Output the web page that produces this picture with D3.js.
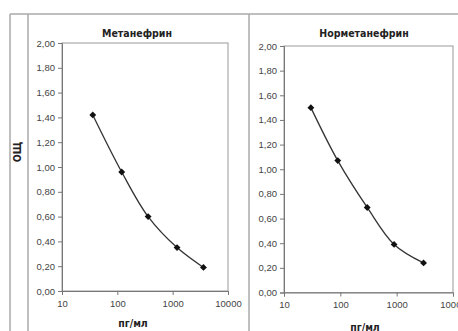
<!DOCTYPE html>
<html>
<head>
<meta charset="utf-8">
<script src="https://cdn.jsdelivr.net/npm/d3@7"></script>
<style>
  body { margin: 0; background: #fff; }
  .tick text { font-family: 'Liberation Sans', Arial, sans-serif; font-size: 9.5px; fill: #444; }
  .title { font-family: 'Liberation Sans Narrow', 'DejaVu Sans Condensed', sans-serif; font-weight: bold; font-size: 10.5px; fill: #222; }
</style>
</head>
<body>
<div id="chart"></div>
<script>
const metConc = [36, 120, 360, 1200, 3600]
const metOd = [1.42, 0.96, 0.60, 0.35, 0.19]
const normConc = [30, 90, 300, 900, 3000]
const normOd = [1.50, 1.07, 0.69, 0.39, 0.24]
const xTicks = [10, 100, 1000, 10000]
const yTicks = [0, 0.2, 0.4, 0.6, 0.8, 1.0, 1.2, 1.4, 1.6, 1.8, 2.0]

const width = 458
const height = 331

const svg = d3
  .select('#chart')
  .append('svg')
  .attr('width', width)
  .attr('height', height)

// sheet grid lines
const grid = [
  [10, 14, 458, 14],
  [10, 14, 10, 331],
  [28, 14, 28, 331],
  [249, 14, 249, 331]
]
svg.selectAll('.grid')
  .data(grid)
  .enter()
  .append('line')
  .attr('x1', d => d[0]).attr('y1', d => d[1])
  .attr('x2', d => d[2]).attr('y2', d => d[3])
  .attr('stroke', '#aaa')
  .attr('stroke-width', 1.5)

const fmt = v => d3.format('.2f')(v).replace('.', ',')

function panel(conc, od, title, box) {
  const x = d3.scaleLog().domain([10, 10000]).range([box.left, box.right])
  const y = d3.scaleLinear().domain([0, 2]).range([box.bottom, box.top])
  const g = svg.append('g')

  // plot area border
  g.append('rect')
    .attr('x', box.left).attr('y', box.top)
    .attr('width', box.right - box.left).attr('height', box.bottom - box.top)
    .attr('fill', 'none').attr('stroke', '#999').attr('stroke-width', 1)

  const yAxis = d3.axisLeft(y).tickValues(yTicks).tickFormat(fmt).tickSize(4).tickPadding(3)
  g.append('g')
    .attr('transform', 'translate(' + box.left + ',0)')
    .call(yAxis)
    .call(a => a.selectAll('path, line').attr('stroke', '#777'))

  const xAxis = d3.axisBottom(x).tickValues(xTicks).tickFormat(d3.format('d')).tickSize(4).tickPadding(5)
  g.append('g')
    .attr('transform', 'translate(0,' + box.bottom + ')')
    .call(xAxis)
    .call(a => a.selectAll('path, line').attr('stroke', '#777'))

  const pts = conc.map((c, i) => [x(c), y(od[i])])
  g.append('path')
    .attr('d', d3.line().curve(d3.curveCatmullRom)(pts))
    .attr('fill', 'none')
    .attr('stroke', '#333')
    .attr('stroke-width', 1.3)

  g.selectAll('.pt')
    .data(pts)
    .enter()
    .append('path')
    .attr('d', d3.symbol(d3.symbolDiamond2, 30))
    .attr('transform', d => 'translate(' + d[0] + ',' + d[1] + ')')
    .attr('fill', '#111')

  g.append('text')
    .attr('class', 'title')
    .attr('x', box.titleX)
    .attr('y', 37)
    .attr('text-anchor', 'middle')
    .text(title)

  g.append('text')
    .attr('class', 'title')
    .attr('x', box.labX)
    .attr('y', box.labY)
    .attr('text-anchor', 'middle')
    .text('пг/мл')
}

panel(metConc, metOd, 'Метанефрин',
  { left: 62, right: 228, top: 43, bottom: 291, titleX: 137, labX: 133, labY: 327 })
panel(normConc, normOd, 'Норметанефрин',
  { left: 284, right: 453, top: 46, bottom: 292.5, titleX: 364, labX: 365, labY: 331 })

svg.append('text')
  .attr('class', 'title')
  .attr('transform', 'translate(21,152) rotate(-90)')
  .attr('text-anchor', 'middle')
  .text('ОЩ')
</script>
</body>
</html>
